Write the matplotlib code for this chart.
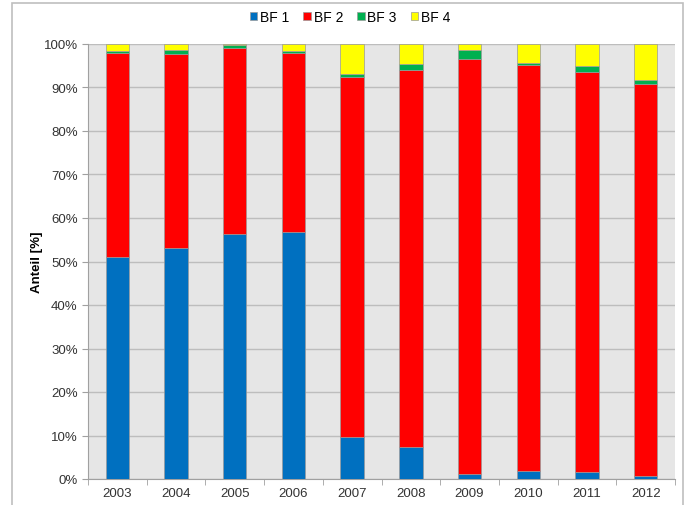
import matplotlib
matplotlib.use('Agg')
import matplotlib.pyplot as plt
import numpy as np
from matplotlib.patches import Rectangle
from matplotlib.ticker import PercentFormatter

years = ['2003', '2004', '2005', '2006', '2007', '2008', '2009', '2010', '2011', '2012']
bf1 = [51.0, 53.1, 56.3, 56.8, 9.7, 7.3, 1.1, 1.8, 1.5, 0.7]
bf2 = [46.9, 44.7, 42.8, 41.1, 82.7, 86.8, 95.4, 93.4, 92.0, 90.1]
bf3 = [0.6, 0.9, 0.6, 0.6, 0.7, 1.2, 2.1, 0.4, 1.5, 0.9]
bf4 = [1.5, 1.3, 0.3, 1.5, 6.9, 4.7, 1.4, 4.4, 5.0, 8.3]

series = [('BF 1', bf1, '#0070C0'), ('BF 2', bf2, '#FF0000'),
          ('BF 3', bf3, '#00B050'), ('BF 4', bf4, '#FFFF00')]

plt.rcParams['font.family'] = ['Liberation Sans', 'DejaVu Sans']

fig = plt.figure(figsize=(6.86, 5.06), dpi=100)
# light frame round the whole chart, cut off at the bottom
fig.patches.append(Rectangle((12 / 686, -0.1), 671 / 686, 1.1 - 4 / 506,
                             transform=fig.transFigure, fill=False,
                             edgecolor='#BFBFBF', linewidth=1.2))

ax = fig.add_axes([88 / 686, 26 / 506, 587 / 686, 435 / 506])
ax.set_facecolor('#E6E6E6')

x = np.arange(len(years))
bottom = np.zeros(len(years))
handles = []
for name, vals, color in series:
    vals = np.array(vals)
    b = ax.bar(x, vals, 0.4, bottom=bottom, color=color, edgecolor='#9A9A9A',
               linewidth=0.5, label=name, zorder=3)
    handles.append(b)
    bottom += vals

ax.set_xlim(-0.5, len(years) - 0.5)
ax.set_ylim(0, 100)
ax.set_yticks(np.arange(0, 101, 10))
ax.yaxis.set_major_formatter(PercentFormatter(decimals=0))
ax.yaxis.grid(True, color='#BDBDBD', linewidth=1, zorder=0)
ax.set_axisbelow(True)

ax.set_xticks(x)
ax.set_xticklabels(years)
ax.set_xticks(np.arange(-0.5, len(years)), minor=True)
ax.tick_params(axis='x', which='major', length=0, labelsize=9.5, pad=6,
               colors='#333333')
ax.tick_params(axis='x', which='minor', length=4, color='#A0A0A0')
ax.tick_params(axis='y', length=4, color='#A0A0A0', labelsize=9.5,
               colors='#333333')

for side in ('top', 'right'):
    ax.spines[side].set_visible(False)
for side in ('left', 'bottom'):
    ax.spines[side].set_color('#A0A0A0')

ax.set_ylabel('Anteil [%]', fontsize=9.5, fontweight='bold', labelpad=0)

fig.legend(handles=handles, loc='center', bbox_to_anchor=(350 / 686, 1 - 18 / 506),
           ncol=4, frameon=False, fontsize=10, handlelength=0.55,
           handleheight=0.55, handletextpad=0.2, columnspacing=1.0)

fig.savefig('out.png', dpi=100)
